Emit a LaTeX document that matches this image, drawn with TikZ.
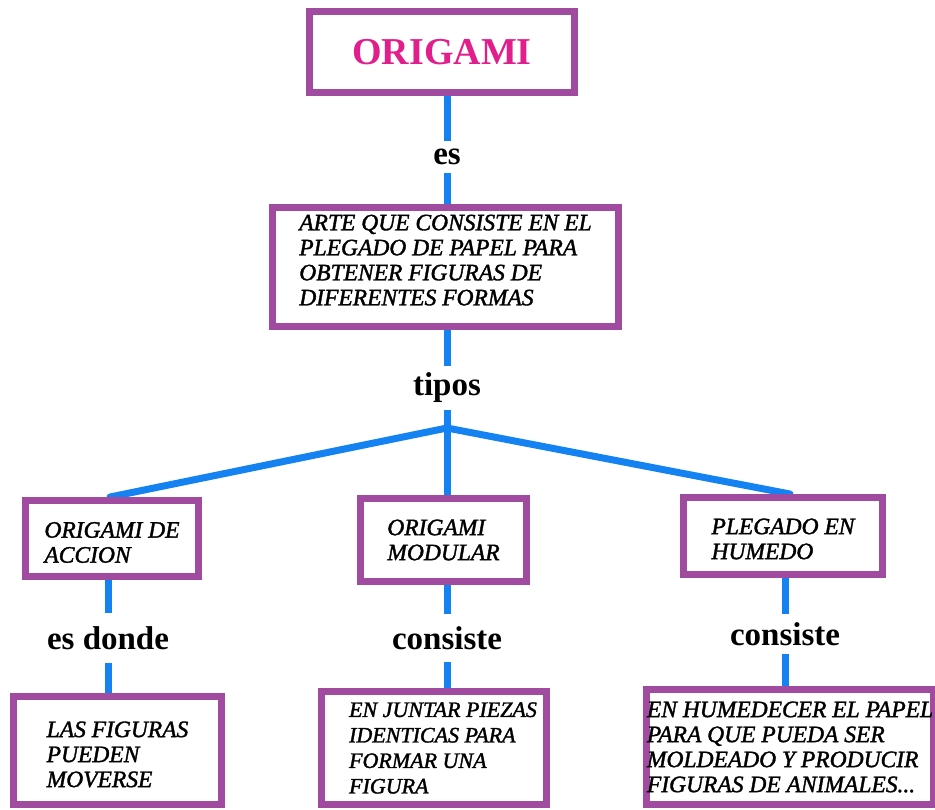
\documentclass[tikz,border=0pt]{standalone}
\usepackage{fontspec}
\setmainfont{Liberation Serif}[
  ItalicFont={Liberation Serif Italic},
  BoldFont={Liberation Serif Bold},
  BoldItalicFont={Liberation Serif Bold Italic}]
\newfontface\boxface{Liberation Serif Italic}[FakeBold=1.5]
\usetikzlibrary{backgrounds}
\definecolor{boxpurple}{RGB}{160,75,160}
\definecolor{linkblue}{RGB}{20,130,240}
\definecolor{titlepink}{RGB}{225,30,140}
\begin{document}
\begin{tikzpicture}[x=1pt,y=-1pt,
  box/.style={draw=boxpurple, line width=7pt, fill=white, inner sep=0pt, align=left,
              font=\fontsize{23.5}{25}\boxface},
  lab/.style={inner sep=0pt, font=\fontsize{33}{36}\selectfont\bfseries},
  link/.style={draw=linkblue, line width=7pt},
  branch/.style={link, line cap=round}]
\path[use as bounding box] (0,0) rectangle (935,810);

% boxes
\node[box, minimum width=265, minimum height=81,
      font=\fontsize{38}{40}\selectfont\bfseries, text=titlepink] (b1) at (442,52) {ORIGAMI};
\node[box, minimum width=346, minimum height=119] (b2) at (445.5,267)
  {ARTE QUE CONSISTE EN EL\\PLEGADO DE PAPEL PARA\\OBTENER FIGURAS DE\\DIFERENTES FORMAS\rule[-14pt]{0pt}{14pt}};
\node[box, minimum width=173, minimum height=76] (b3) at (112,538.5) {\rule{0pt}{23.5pt}ORIGAMI DE\\ACCION};
\node[box, minimum width=166, minimum height=83] (b4) at (443.5,540) {ORIGAMI\\MODULAR};
\node[box, minimum width=199, minimum height=77] (b5) at (783,536) {\rule{0pt}{21.5pt}PLEGADO EN\\HUMEDO};
\node[box, minimum width=208, minimum height=108] (b6) at (117.5,750.5) {\rule{0pt}{23.5pt}LAS FIGURAS\\PUEDEN\\MOVERSE};
\node[box, minimum width=225, minimum height=113, font=\fontsize{22}{25.5}\boxface] (b7) at (434,748)
  {\hspace*{18pt}EN JUNTAR PIEZAS\\\hspace*{18pt}IDENTICAS PARA\\\hspace*{18pt}FORMAR UNA\\\hspace*{18pt}FIGURA};
\node[box, minimum width=283, minimum height=115] (b8) at (790,747)
  {EN HUMEDECER EL PAPEL\\PARA QUE PUEDA SER\\MOLDEADO Y PRODUCIR\\FIGURAS DE ANIMALES...};

% labels
\node[lab, minimum height=32] (l1) at (447,157) {es};
\node[lab, minimum height=43] (l2) at (447,388) {tipos};
\node[lab, minimum height=50] (l3) at (108,638) {es donde};
\node[lab, minimum height=48] (l4) at (447,638) {consiste};
\node[lab, minimum height=40] (l5) at (785,634) {consiste};
\coordinate (J) at (447,428);

% connectors
\begin{scope}[on background layer]
\draw[link] (b1.south -| l1) -- (l1.north);
\draw[link] (l1.south) -- (l1.south |- b2.north);
\draw[link] (b2.south -| l2) -- (l2.north);
\draw[link] (l2.south) -- (J);
\draw[branch] (J) -- ([xshift=-2]b3.north);
\draw[link] (J) -- (J |- b4.north);
\draw[branch] (J) -- ([xshift=7]b5.north);
\draw[link] (b3.south -| l3) -- (l3.north);
\draw[link] (l3.south) -- (l3.south |- b6.north);
\draw[link] (b4.south -| l4) -- (l4.north);
\draw[link] (l4.south) -- (l4.south |- b7.north);
\draw[link] (b5.south -| l5) -- (l5.north);
\draw[link] (l5.south) -- (l5.south |- b8.north);
\end{scope}
\end{tikzpicture}
\end{document}
